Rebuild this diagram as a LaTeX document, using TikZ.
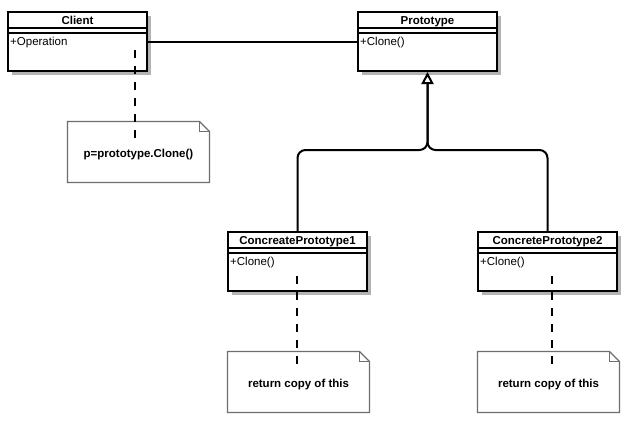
\documentclass[tikz,border=0pt]{standalone}
\usepackage{fontspec}
\setmainfont{Liberation Sans}
\usetikzlibrary{arrows.meta,shadows,calc}
\definecolor{shadowgray}{RGB}{179,179,179}
\definecolor{notegray}{RGB}{110,110,110}
\tikzset{
  every node/.style={font=\fontsize{11.5}{13}\selectfont},
  classbox/.style={draw, line width=1.8pt, fill=white, minimum width=139.2pt,
    minimum height=59.2pt, anchor=north west, inner sep=0pt,
    drop shadow={shadow xshift=4pt, shadow yshift=-4pt, fill=shadowgray, opacity=1}},
  hdr/.style={line width=1.8pt},
  titletext/.style={inner sep=0pt, font=\fontsize{11.5}{13}\selectfont\bfseries},
  membertext/.style={inner sep=0pt},
  notebox/.style={inner sep=0pt, minimum width=142pt, minimum height=61pt, outer sep=0pt},
  notetext/.style={inner sep=0pt, anchor=base, font=\fontsize{11.5}{13}\selectfont\bfseries},
  noteline/.style={draw=notegray, line width=1.3pt, fill=white, line join=miter},
  conn/.style={line width=2pt},
  dashconn/.style={line width=2pt, dash pattern=on 7.5pt off 8.5pt},
}
\newcommand\umlclass[5]{%
  \node[classbox] (#1) at (#2,#3) {};
  \draw[hdr] ([yshift=-17pt]#1.north west) -- ([yshift=-17pt]#1.north east);
  \draw[hdr] ([yshift=-22pt]#1.north west) -- ([yshift=-22pt]#1.north east);
  \node[titletext, anchor=base] (#1-t) at ([yshift=-13pt]#1.north) {#4};
  \node[membertext, anchor=base west] (#1-m) at ([shift={(3pt,-34pt)}]#1.north west) {#5};
}
\newcommand\umlnote[4]{%
  \node[notebox] (#1) at (#2,#3) {};
  \path[noteline] (#1.north west) -- ([xshift=-10pt]#1.north east)
    -- ([yshift=-10pt]#1.north east) -- (#1.south east) -- (#1.south west) -- cycle;
  \draw[notegray, line width=1.3pt] ([xshift=-10pt]#1.north east) -- ([shift={(-10pt,-10pt)}]#1.north east)
    -- ([yshift=-10pt]#1.north east);
  \node[notetext] (#1-t) at ([yshift=-5pt]#1.center) {#4};
}
\begin{document}
\begin{tikzpicture}[x=1pt,y=-1pt]
  \useasboundingbox[fill=white] (0,0) rectangle (640,434);

  \umlclass{client}{7}{11}{Client}{+Operation}
  \umlclass{proto}{357}{11}{Prototype}{+Clone()}
  \umlclass{cpa}{227}{231}{ConcreatePrototype1}{+Clone()}
  \umlclass{cpb}{477}{231}{ConcretePrototype2}{+Clone()}

  \umlnote{notea}{138.5}{152}{p=prototype.Clone()}
  \umlnote{noteb}{298.5}{382}{return copy of this}
  \umlnote{notec}{548.5}{382}{return copy of this}

  % association
  \draw[conn] (client.east) -- (proto.west);

  % inheritance
  \coordinate (jn) at (427.5,150);
  \coordinate (tipbase) at (427.5,84);
  \draw[conn, rounded corners=8pt] (cpb.north) |- (jn) -- (tipbase);
  \draw[conn, rounded corners=8pt, -{Triangle[length=12pt, width=12pt, fill=white]}]
    (cpa.north) |- (jn) -- (proto.south);

  % note anchors
  \coordinate (da1) at (134.5,50);
  \coordinate (da2) at (134.5,138);
  \coordinate (db1) at (297,276);
  \coordinate (db2) at (297,364);
  \coordinate (dc1) at (552,276);
  \coordinate (dc2) at (552,364);
  \draw[dashconn] (da1) -- (da2);
  \draw[dashconn] (db1) -- (db2);
  \draw[dashconn] (dc1) -- (dc2);
\end{tikzpicture}
\end{document}
